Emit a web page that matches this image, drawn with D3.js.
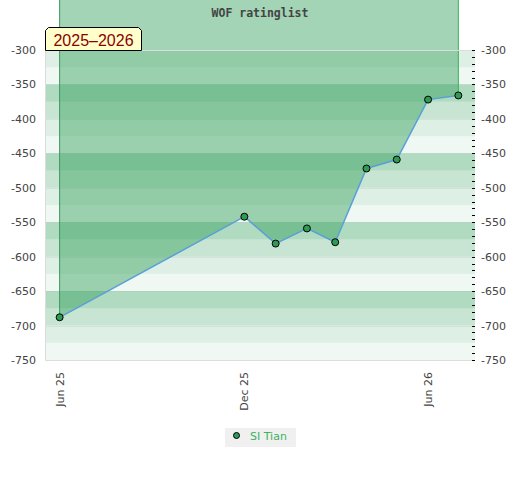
<!DOCTYPE html>
<html><head><meta charset="utf-8">
<script src="https://cdn.jsdelivr.net/npm/d3@7"></script>
<style>body{margin:0;background:#fff}svg{display:block}</style>
</head><body>
<svg id="c" width="520" height="480"></svg>
<script>
const title = "WOF ratinglist";
const seasonLabel = "2025\u20132026";
const seriesName = "SI Tian";
const dates = ["2025-06-01","2025-12-01","2026-01-01","2026-02-01","2026-03-01","2026-04-01","2026-05-01","2026-06-01","2026-07-01"];
const values = [-688,-542,-581,-559,-579,-472,-459,-372,-366];
const xTicks = ["2025-06-01","2025-12-01","2026-06-01"];
const yTicks = [-300,-350,-400,-450,-500,-550,-600,-650,-700,-750];

const svg = d3.select("#c");
const L = 45, R = 475, T = 50, B = 360;
const x = d3.scaleUtc().domain([new Date(Date.UTC(2025,4,17,12)), new Date(Date.UTC(2026,6,17,12))]).range([L, R]);
const y = d3.scaleLinear().domain([-750,-300]).range([B, T]);
const data = dates.map((d,i)=>({d:new Date(d+"T00:00:00Z"), v:values[i]}));

// bands
const bandOp = [0.16,0.08,0.38,0.27];
const bands = d3.range(-300,-750,-25);
svg.append("g").selectAll("rect").data(bands).join("rect")
  .attr("x",L).attr("width",R-L)
  .attr("y",d=>y(d)).attr("height",d=>y(d-25)-y(d))
  .attr("fill","rgb(51,160,91)")
  .attr("fill-opacity",(d,i)=>bandOp[i%4]);
// grid lines
svg.append("g").selectAll("line").data(yTicks.slice(1,-1)).join("line")
  .attr("x1",L).attr("x2",R).attr("y1",d=>Math.round(y(d))+0.5).attr("y2",d=>Math.round(y(d))+0.5)
  .attr("stroke","#000").attr("stroke-opacity",0.05);

// fill area up to top
const area = d3.area().x(d=>x(d.d)).y0(0).y1(d=>y(d.v));
svg.append("path").datum(data).attr("d",area).attr("fill","rgb(51,160,91)").attr("fill-opacity",0.45);
// side lines
svg.append("line").attr("x1",x(data[0].d)).attr("x2",x(data[0].d)).attr("y1",0).attr("y2",y(data[0].v))
  .attr("stroke","#3a9a5c").attr("stroke-width",1);
const last = data[data.length-1];
svg.append("line").attr("x1",x(last.d)).attr("x2",x(last.d)).attr("y1",0).attr("y2",y(last.v))
  .attr("stroke","#3cb35a").attr("stroke-width",1);

// borders
svg.append("path").attr("d",`M${L+0.5},${T}V${B+0.5}H${R}`).attr("fill","none").attr("stroke","#dcdcdc");
svg.append("line").attr("x1",L).attr("x2",R).attr("y1",T+0.5).attr("y2",T+0.5).attr("stroke","#dcdcdc");

// title
svg.append("text").attr("x",260).attr("y",17).attr("text-anchor","middle")
  .attr("font-family","DejaVu Sans Mono").attr("font-weight","bold").attr("font-size","11.5px")
  .attr("fill","#444").text(title);

// line
svg.append("path").datum(data).attr("d",d3.line().x(d=>x(d.d)).y(d=>y(d.v)))
  .attr("fill","none").attr("stroke","#5a9fd8").attr("stroke-width",1.5);
svg.append("g").selectAll("circle").data(data).join("circle")
  .attr("cx",d=>x(d.d)).attr("cy",d=>y(d.v)).attr("r",3.5)
  .attr("fill","#2e9b55").attr("stroke","#000").attr("stroke-width",1);

// axis labels
const lab = {"font-family":"DejaVu Sans","font-size":"11px","fill":"#444"};
const gl = svg.append("g").selectAll("text").data(yTicks).join("text")
  .attr("x",36).attr("y",d=>y(d)+4).attr("text-anchor","end").text(d=>d);
const gr = svg.append("g").selectAll("text").data(yTicks).join("text")
  .attr("x",481).attr("y",d=>y(d)+4).attr("text-anchor","start").text(d=>d);
[gl,gr].forEach(s=>Object.entries(lab).forEach(([k,v])=>s.attr(k,v)));
// right minor ticks
svg.append("g").selectAll("line").data(d3.range(-300,-751,-10)).join("line")
  .attr("x1",472).attr("x2",475).attr("y1",d=>Math.round(y(d))+0.5).attr("y2",d=>Math.round(y(d))+0.5)
  .attr("stroke","#000");

// x labels
const gx = svg.append("g").selectAll("text").data(xTicks).join("text")
  .attr("transform",d=>`translate(${x(new Date(d+"T00:00:00Z"))+4},372) rotate(-90)`)
  .attr("text-anchor","end").text(d=>d3.utcFormat("%b %y")(new Date(d+"T00:00:00Z")));
Object.entries(lab).forEach(([k,v])=>gx.attr(k,v));

// season label box
const bx=45, by=27, bw=96, bh=23, c=3;
svg.append("path").attr("d",`M${bx+0.5},${by+bh+0.5}V${by+c+0.5}L${bx+c+0.5},${by+0.5}H${bx+bw-c+0.5}L${bx+bw+0.5},${by+c+0.5}V${by+bh+0.5}Z`)
  .attr("fill","#ffffcc").attr("stroke","#000");
svg.append("text").attr("x",bx+bw/2+0.5).attr("y",by+19).attr("text-anchor","middle")
  .attr("font-family","Liberation Sans").attr("font-size","16px").attr("fill","#8b0000").text(seasonLabel);

// legend
svg.append("rect").attr("x",225).attr("y",428).attr("width",71).attr("height",19).attr("fill","#f0f0f0");
svg.append("circle").attr("cx",236.5).attr("cy",435.5).attr("r",3).attr("fill","#2e9b55").attr("stroke","#000");
svg.append("text").attr("x",250).attr("y",440).attr("font-family","DejaVu Sans").attr("font-size","11px")
  .attr("fill","#3cb35a").text(seriesName);
</script>
</body></html>
